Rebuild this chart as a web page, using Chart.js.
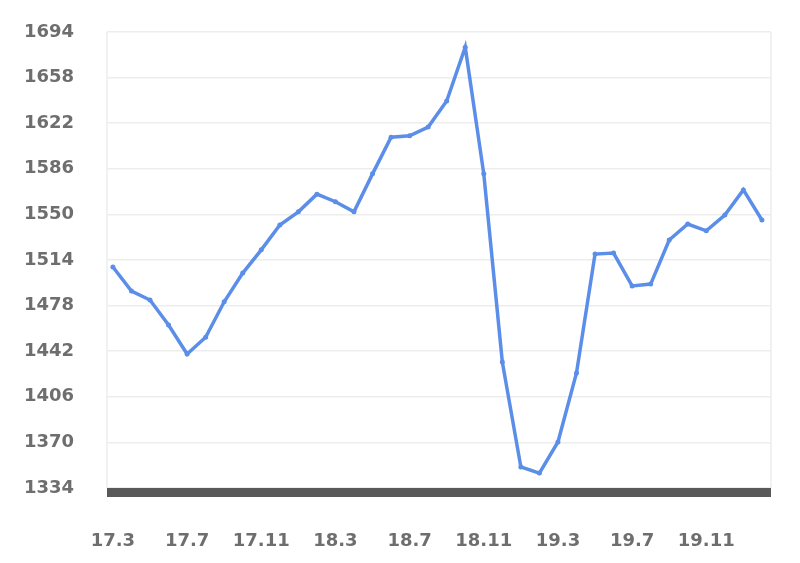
<!DOCTYPE html>
<html>
<head>
<meta charset="utf-8">
<script src="https://cdn.jsdelivr.net/npm/chart.js@4"></script>
<style>
  html, body { margin: 0; padding: 0; background: #fff; }
  #wrap { width: 800px; height: 563px; }
</style>
</head>
<body>
<div id="wrap"><canvas id="lineChart"></canvas></div>
<script>
const months = [
    '17.3', '17.4', '17.5', '17.6', '17.7', '17.8', '17.9', '17.10', '17.11', '17.12',
    '18.1', '18.2', '18.3', '18.4', '18.5', '18.6', '18.7', '18.8', '18.9', '18.10', '18.11', '18.12',
    '19.1', '19.2', '19.3', '19.4', '19.5', '19.6', '19.7', '19.8', '19.9', '19.10', '19.11', '19.12',
    '20.1', '20.2'
];
const values = [
    1508.5, 1489.5, 1482.4, 1462.7, 1439.8, 1453, 1481, 1503.7, 1522, 1541.6,
    1552, 1566, 1560, 1552, 1582, 1611, 1612, 1619, 1639.5, 1682, 1582, 1433.5,
    1350.6, 1345.8, 1370.3, 1424.8, 1518.7, 1519.5, 1493.5, 1495, 1529.8, 1542.4,
    1537, 1549.5, 1569.3, 1545.6
];
const yTicks = [1334, 1370, 1406, 1442, 1478, 1514, 1550, 1586, 1622, 1658, 1694];
const xTickIndex = [0, 4, 8, 12, 16, 20, 24, 28, 32];

const labelFont = { family: "'DejaVu Sans', sans-serif", size: 18, weight: 'bold' };

// light frame + thick dark base band
const framePlugin = {
    id: 'frame',
    beforeDatasetsDraw(chart) {
        const { ctx, chartArea: a } = chart;
        ctx.save();
        ctx.strokeStyle = '#ededed';
        ctx.lineWidth = 1.5;
        ctx.beginPath();
        ctx.moveTo(a.left, a.bottom);
        ctx.lineTo(a.left, a.top);
        ctx.moveTo(a.right, a.top);
        ctx.lineTo(a.right, a.bottom);
        ctx.stroke();
        ctx.fillStyle = '#595959';
        ctx.fillRect(a.left, a.bottom, a.right - a.left, 9);
        ctx.restore();
    }
};

new Chart(document.getElementById('lineChart').getContext('2d'), {
    type: 'line',
    data: {
        datasets: [{
            data: months.map((m, i) => ({ x: i, y: values[i] })),
            borderColor: '#5b8ee8',
            backgroundColor: '#5b8ee8',
            borderWidth: 3.5,
            pointRadius: 2.5,
            pointBorderWidth: 0,
            tension: 0,
            fill: false
        }]
    },
    options: {
        responsive: true,
        maintainAspectRatio: false,
        animation: false,
        layout: { padding: { left: 0, right: 29, top: 32, bottom: 0 } },
        plugins: {
            legend: { display: false },
            tooltip: { enabled: false }
        },
        scales: {
            x: {
                type: 'linear',
                min: -0.32,
                max: 35.49,
                afterBuildTicks: axis => { axis.ticks = xTickIndex.map(v => ({ value: v })); },
                afterFit: axis => { axis.height = 75; },
                grid: { display: false, drawTicks: false },
                border: { display: false },
                ticks: {
                    font: labelFont,
                    color: '#6e6e6e',
                    padding: 43,
                    maxRotation: 0,
                    autoSkip: false,
                    callback: value => months[value]
                }
            },
            y: {
                min: 1334,
                max: 1694,
                afterBuildTicks: axis => { axis.ticks = yTicks.map(v => ({ value: v })); },
                afterFit: axis => {
                    axis.width = 107;
                    axis.paddingTop = 0;
                    axis.paddingBottom = 0;
                },
                grid: { color: '#ededed', lineWidth: 1.5, drawTicks: false },
                border: { display: false },
                ticks: {
                    font: labelFont,
                    color: '#6e6e6e',
                    padding: 33,
                    callback: value => String(value)
                }
            }
        }
    },
    plugins: [framePlugin]
});
</script>
</body>
</html>
